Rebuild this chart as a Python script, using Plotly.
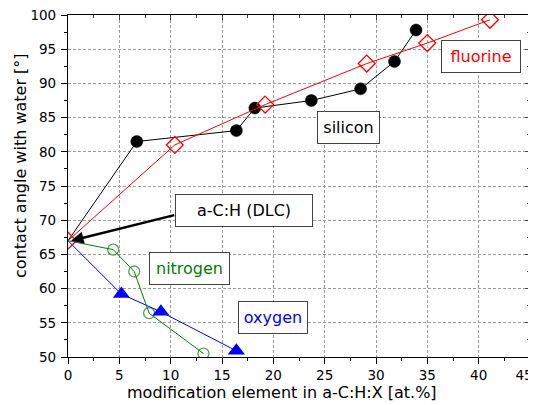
import plotly.graph_objects as go

# ---- data ----
si_x = [0, 6.7, 16.4, 18.2, 23.7, 28.5, 31.8, 33.9]
si_y = [67, 81.5, 83.1, 86.4, 87.5, 89.2, 93.2, 97.8]

f_x = [0, 10.4, 19.2, 29.1, 35.0, 41.1]
f_y = [67, 81.0, 86.9, 92.9, 95.9, 99.3]

n_x = [0, 4.4, 6.45, 7.9, 13.2]
n_y = [67, 65.7, 62.5, 56.4, 50.5]

o_x = [0, 5.2, 9.05, 16.4]
o_y = [67, 59.2, 56.6, 50.9]

x_ticks = [0, 5, 10, 15, 20, 25, 30, 35, 40, 45]
x_ticktext = ["0", "5", "10", "15", "20", "25", "30", "35", "40", ""]
x_last_tick = [45]
x_last_text = ["45"]
y_ticks = [50, 55, 60, 65, 70, 75, 80, 85, 90, 95, 100]

labels = ["fluorine", "silicon", "a-C:H (DLC)", "nitrogen", "oxygen"]
label_x = [40.2, 27.35, 17.1, 11.85, 19.95]
label_y = [93.95, 83.5, 71.35, 63.0, 55.8]
label_w = [78, 61, 136, 79, 68]
label_col = ["#ff0000", "#000000", "#000000", "#008000", "#0000ff"]

x_title = "modification element in a-C:H:X [at.%]"
y_title = "contact angle with water [°]"

RED, BLUE, GREEN = "#ff0000", "#0000ff", "#008000"
FONT = "DejaVu Sans, Verdana, sans-serif"


def sizes(n, s):
    return [0] + [s] * (n - 1)


fig = go.Figure()
fig.add_trace(go.Scatter(x=n_x, y=n_y, mode="lines+markers",
                         line=dict(color=GREEN, width=1),
                         marker=dict(symbol="circle-open", size=sizes(len(n_x), 11), color=GREEN,
                                     line=dict(width=1.3))))
fig.add_trace(go.Scatter(x=o_x, y=o_y, mode="lines+markers",
                         line=dict(color=BLUE, width=1),
                         marker=dict(symbol="triangle-up", size=sizes(len(o_x), 15), color=BLUE,
                                     opacity=1, line=dict(width=0))))
fig.add_trace(go.Scatter(x=si_x, y=si_y, mode="lines+markers",
                         line=dict(color="black", width=1),
                         marker=dict(symbol="circle", size=sizes(len(si_x), 12), color="#000000",
                                     opacity=1, line=dict(width=0.5, color="#000000"))))
fig.add_trace(go.Scatter(x=f_x, y=f_y, mode="lines+markers",
                         line=dict(color=RED, width=1),
                         marker=dict(symbol="diamond-open", size=13, color=RED, line=dict(width=1.3))))
# invisible traces to hold the extra axes
fig.add_trace(go.Scatter(x=[0], y=[50], xaxis="x2", yaxis="y2", mode="markers",
                         marker=dict(opacity=0), hoverinfo="skip"))
fig.add_trace(go.Scatter(x=[0], y=[50], xaxis="x3", yaxis="y", mode="markers",
                         marker=dict(opacity=0), hoverinfo="skip"))

tickfont = dict(family=FONT, size=13.5, color="black")
axis_common = dict(showline=True, linecolor="black", linewidth=1.2, automargin=False,
                   ticks="outside", ticklen=6, tickwidth=1, tickcolor="black",
                   ticklabeloverflow="allow",
                   showgrid=True, gridcolor="#a0a0a0", griddash="3px,2px", gridwidth=1,
                   zeroline=False, tickfont=tickfont)

fig.update_layout(
    width=528, height=397,
    margin=dict(l=60, r=6, t=7, b=48),
    paper_bgcolor="white", plot_bgcolor="white",
    showlegend=False,
    font=dict(family=FONT, color="black"),
    xaxis=dict(range=[0, 45], tickvals=x_ticks, ticktext=x_ticktext,
               minor=dict(ticks="outside", ticklen=3, dtick=2.5, tickcolor="black", showgrid=False),
               **axis_common),
    yaxis=dict(range=[50, 100], tickvals=y_ticks, ticktext=[str(v) for v in y_ticks],
               minor=dict(ticks="outside", ticklen=3, dtick=2.5, tickcolor="black", showgrid=False),
               ticklabelstandoff=2,
               **axis_common),
    xaxis2=dict(range=[0, 45], overlaying="x", side="top", showline=True, linecolor="black",
                linewidth=1.2, ticks="inside", ticklen=5, tickvals=x_ticks, showticklabels=False,
                automargin=False,
                minor=dict(ticks="inside", ticklen=3, dtick=2.5), showgrid=False, zeroline=False),
    yaxis2=dict(range=[50, 100], overlaying="y", side="right", showline=True, linecolor="black",
                linewidth=1.2, ticks="inside", ticklen=5, tickvals=y_ticks, showticklabels=False,
                automargin=False,
                minor=dict(ticks="inside", ticklen=3, dtick=2.5), showgrid=False, zeroline=False),
    xaxis3=dict(range=[0, 45], overlaying="x", side="bottom", showline=False, ticks="outside",
                ticklen=6, tickcolor="rgba(0,0,0,0)", tickvals=x_last_tick, ticktext=x_last_text,
                ticklabelshift=-6, ticklabeloverflow="allow", tickfont=tickfont,
                automargin=False, showgrid=False, zeroline=False),
)

# axis titles (placed as in the reference, slightly off-centre)
fig.add_annotation(x=0.463, y=-0.105, xref="paper", yref="paper", text=x_title,
                   showarrow=False, font=dict(family=FONT, size=16, color="black"),
                   xanchor="center", yanchor="middle")
fig.add_annotation(x=-0.104, y=0.561, xref="paper", yref="paper", text=y_title,
                   textangle=-90, showarrow=False, font=dict(family=FONT, size=16, color="black"),
                   xanchor="center", yanchor="middle")

# arrow
fig.add_annotation(x=0.3, y=67, ax=10.5, ay=70.8, xref="x", yref="y", axref="x", ayref="y",
                   text="", showarrow=True, arrowhead=2, arrowsize=1, arrowwidth=2.5,
                   arrowcolor="black")

for t, xx, yy, w, c in zip(labels, label_x, label_y, label_w, label_col):
    fig.add_annotation(x=xx, y=yy, xref="x", yref="y", text=t, showarrow=False,
                       font=dict(family=FONT, size=16, color=c),
                       bgcolor="white", bordercolor="#444444", borderwidth=1, borderpad=0,
                       width=w, height=31, xanchor="center", yanchor="middle")

fig.write_html("out.html")
